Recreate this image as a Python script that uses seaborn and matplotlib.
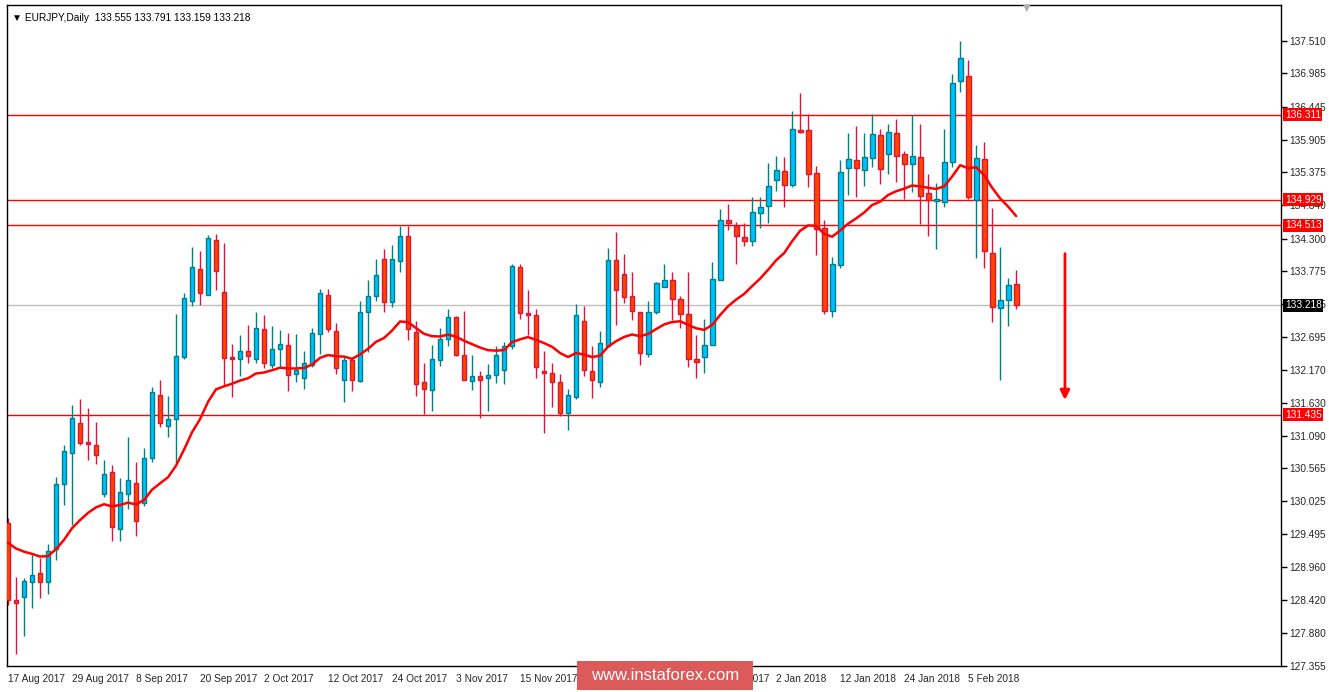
import matplotlib
matplotlib.use("Agg")
import matplotlib.pyplot as plt
import matplotlib.patches as patches
import seaborn as sns
import numpy as np
import pandas as pd

# daily EURJPY candles
opens = [129.67, 128.43, 128.48, 128.71, 128.86, 128.71, 129.25, 130.31, 130.81, 131.30,
         130.98, 130.94, 130.14, 130.50, 129.57, 130.14, 130.33, 130.00, 130.74, 131.76,
         131.26, 131.37, 132.37, 133.29, 133.81, 133.39, 134.28, 133.43, 132.36, 132.34,
         132.48, 132.34, 132.83, 132.24, 132.51, 132.57, 132.10, 132.03, 132.24, 132.75,
         133.38, 132.80, 132.00, 132.32, 131.99, 133.10, 133.36, 133.96, 133.27, 133.94,
         134.35, 132.78, 131.97, 131.83, 132.32, 132.67, 133.02, 132.41, 131.98, 132.06,
         132.03, 132.08, 132.16, 132.56, 133.84, 133.09, 133.05, 132.12, 132.11, 131.96,
         131.46, 131.72, 132.96, 132.15, 131.97, 132.55, 133.95, 133.73, 133.36, 133.10,
         132.42, 133.10, 133.52, 133.62, 133.31, 133.07, 132.35, 132.38, 132.57, 133.63,
         134.60, 134.50, 134.33, 134.26, 134.72, 134.83, 135.25, 135.40, 135.17, 136.07,
         136.07, 135.36, 134.47, 133.13, 133.87, 135.45, 135.57, 135.42, 135.61, 135.98,
         135.67, 136.01, 135.68, 135.51, 135.62, 135.04, 134.91, 134.90, 135.54, 136.86,
         136.95, 134.92, 135.59, 134.07, 133.17, 133.30, 133.555]
highs = [129.75, 128.79, 128.78, 129.17, 129.10, 129.34, 130.42, 130.94, 131.59, 131.69,
         131.55, 131.32, 130.70, 130.62, 130.40, 131.07, 130.67, 130.89, 131.88, 132.00,
         131.74, 133.08, 133.41, 134.16, 134.10, 134.36, 134.38, 134.23, 132.59, 132.73,
         132.89, 133.11, 133.06, 132.88, 132.82, 132.76, 132.75, 132.48, 132.85, 133.48,
         133.48, 132.92, 132.38, 132.38, 133.28, 133.62, 133.97, 134.13, 134.19, 134.51,
         134.51, 132.96, 132.27, 132.57, 132.84, 133.16, 133.04, 133.12, 132.40, 132.15,
         132.26, 132.56, 132.62, 133.89, 133.89, 133.47, 133.16, 132.47, 132.28, 132.09,
         131.85, 133.24, 133.21, 132.55, 132.79, 134.15, 134.40, 134.05, 133.75, 133.10,
         133.28, 133.60, 133.88, 133.76, 133.36, 133.76, 132.73, 133.00, 133.92, 134.78,
         134.87, 134.57, 134.56, 134.97, 134.98, 135.53, 135.65, 135.63, 136.38, 136.67,
         136.33, 135.48, 134.60, 134.00, 135.57, 136.01, 136.13, 136.01, 136.33, 136.08,
         136.16, 136.24, 135.72, 136.31, 136.17, 135.35, 135.20, 136.08, 136.98, 137.51,
         137.21, 135.82, 135.87, 134.80, 134.16, 133.66, 133.791]
lows = [128.35, 127.55, 127.83, 128.30, 128.46, 128.52, 129.07, 129.96, 129.64, 130.94,
        130.70, 130.64, 130.09, 129.38, 129.38, 129.91, 129.47, 129.95, 130.66, 131.23,
        131.07, 130.63, 132.34, 133.21, 133.22, 133.38, 133.46, 131.91, 131.73, 132.06,
        132.27, 132.27, 132.19, 132.19, 132.22, 131.82, 131.96, 131.85, 132.22, 132.43,
        132.78, 132.10, 131.65, 131.82, 131.96, 132.46, 133.28, 133.10, 133.19, 133.75,
        132.65, 131.74, 131.44, 131.49, 132.23, 132.56, 132.39, 132.00, 131.83, 131.39,
        131.49, 131.95, 131.93, 132.51, 133.00, 132.74, 132.04, 131.14, 131.56, 131.42,
        131.19, 131.69, 132.07, 131.71, 131.89, 132.55, 132.89, 133.25, 132.98, 132.24,
        132.37, 133.08, 133.52, 132.98, 132.84, 132.22, 132.04, 132.11, 132.57, 133.62,
        134.44, 133.89, 134.18, 134.18, 134.47, 134.55, 135.07, 134.82, 135.14, 136.01,
        135.14, 134.04, 133.07, 133.03, 133.82, 135.01, 134.97, 135.16, 135.46, 135.18,
        135.35, 135.22, 134.94, 135.06, 134.53, 134.35, 134.13, 134.81, 135.46, 136.68,
        134.94, 133.99, 133.82, 132.94, 132.00, 132.88, 133.159]
closes = [128.43, 128.38, 128.73, 128.83, 128.71, 129.22, 130.31, 130.84, 131.38, 130.98,
          130.96, 130.78, 130.47, 129.61, 130.18, 130.37, 129.70, 130.73, 131.81, 131.30,
          131.37, 132.39, 133.34, 133.83, 133.41, 134.31, 133.78, 132.36, 132.34, 132.48,
          132.39, 132.84, 132.28, 132.51, 132.59, 132.08, 132.17, 132.28, 132.77, 133.41,
          132.83, 132.20, 132.33, 132.00, 133.10, 133.37, 133.71, 133.27, 133.96, 134.35,
          132.83, 131.94, 131.86, 132.34, 132.67, 133.02, 132.40, 132.00, 132.06, 132.00,
          132.08, 132.41, 132.56, 133.86, 133.09, 133.05, 132.21, 132.11, 131.97, 131.47,
          131.76, 133.06, 132.16, 132.00, 132.61, 133.95, 133.47, 133.35, 133.12, 132.44,
          133.10, 133.58, 133.63, 133.31, 133.08, 132.35, 132.30, 132.57, 133.65, 134.60,
          134.55, 134.34, 134.26, 134.74, 134.82, 135.15, 135.42, 135.17, 136.08, 136.04,
          135.35, 134.45, 133.13, 133.89, 135.39, 135.59, 135.45, 135.63, 136.00, 135.43,
          136.04, 135.64, 135.51, 135.65, 135.00, 134.93, 134.92, 135.55, 136.83, 137.24,
          134.98, 135.61, 134.10, 133.19, 133.30, 133.55, 133.218]
ma_seed = 129.45

date_labels = ["17 Aug 2017", "29 Aug 2017", "8 Sep 2017", "20 Sep 2017", "2 Oct 2017",
               "12 Oct 2017", "24 Oct 2017", "3 Nov 2017", "15 Nov 2017", "27 Nov 2017",
               "7 Dec 2017", "19 Dec 2017", "2 Jan 2018", "12 Jan 2018", "24 Jan 2018",
               "5 Feb 2018"]
price_ticks = [127.355, 127.880, 128.420, 128.960, 129.495, 130.025, 130.565, 131.090,
               131.630, 132.170, 132.695, 133.235, 133.775, 134.300, 134.840, 135.375,
               135.905, 136.445, 136.985, 137.510]
red_levels = [136.311, 134.929, 134.513, 131.435]
last_price = 133.218

df = pd.DataFrame({"o": opens, "h": highs, "l": lows, "c": closes})
df["i"] = np.arange(len(df))
df["ma"] = pd.Series([ma_seed] + closes).ewm(span=20, adjust=False).mean().iloc[1:].values

sns.set_style("white")
plt.rcParams["font.family"] = ["Liberation Sans", "DejaVu Sans"]
fs = 7.3

fig = plt.figure(figsize=(13.29, 6.92), dpi=100)
ax = fig.add_axes([7 / 1329, 26.3 / 692, 1274 / 1329, 660.7 / 692])

up = df["c"] >= df["o"]
for mask, face, edge in [(up, "#00bfff", "#00807f"), (~up, "#ff4500", "#dc143c")]:
    d = df[mask]
    ax.vlines(d["i"], d["l"], d["h"], color=edge, lw=1, zorder=2)
    body = (d["c"] - d["o"]).abs().clip(lower=0.03)
    ax.bar(d["i"], body, bottom=np.minimum(d["o"], d["c"]), width=0.6,
           color=face, edgecolor=edge, linewidth=1, zorder=3)

sns.lineplot(data=df, x="i", y="ma", ax=ax, color="red", lw=1.8, zorder=4)

for lv in red_levels:
    ax.axhline(lv, color="red", lw=1, zorder=1)
ax.axhline(last_price, color="#c0c0c0", lw=1, zorder=1)

ax.annotate("", xy=(132.1, 131.63), xytext=(132.1, 134.10),
            arrowprops=dict(arrowstyle="-|>", color="red", lw=2, mutation_scale=14))

ax.set_xlim(-0.125, 159.1)
ax.set_ylim(127.355, 138.098)
ax.set_xlabel("")
ax.set_ylabel("")
ax.yaxis.tick_right()
ax.set_yticks(price_ticks)
ax.set_yticklabels([f"{t:.3f}" for t in price_ticks], fontsize=fs)
ax.set_xticks(np.arange(0, 8 * len(date_labels), 8))
ax.set_xticklabels(date_labels, fontsize=fs, ha="left")
ax.tick_params(axis="both", direction="out", length=4, width=1, color="black", pad=2)
for s in ax.spines.values():
    s.set_color("black")
    s.set_linewidth(1)

for lv, bg in [(v, "red") for v in red_levels] + [(last_price, "black")]:
    ax.text(1.003, lv, f"{lv:.3f}", transform=ax.get_yaxis_transform(), fontsize=fs,
            color="white", va="center", ha="left", zorder=5,
            bbox=dict(boxstyle="square,pad=0.15", fc=bg, ec="none"))

ax.text(0.004, 0.988, "\u25BC EURJPY,Daily  133.555 133.791 133.159 133.218",
        transform=ax.transAxes, fontsize=fs, va="top", ha="left", color="black",
        family=["Liberation Sans", "DejaVu Sans"])
fig.text(1027 / 1329, 1 - 8 / 692, "\u25BC", fontsize=7, color="#b0b0b0",
         ha="center", va="center", family="DejaVu Sans")

fig.add_artist(patches.Rectangle((577 / 1329, 2 / 692), 176 / 1329, 29 / 692,
                                 transform=fig.transFigure, fc="#dd5a5a", ec="none", zorder=10))
fig.text(665 / 1329, 16 / 692, "www.instaforex.com", fontsize=12, color="white",
         ha="center", va="center", zorder=11)

fig.savefig("out.png", dpi=100)
